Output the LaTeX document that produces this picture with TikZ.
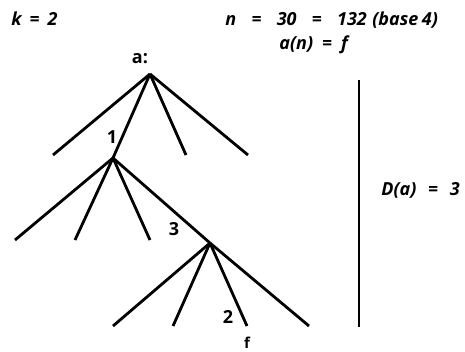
\documentclass[tikz,border=0pt]{standalone}
\usepackage{fontspec}
\setmainfont{Open Sans}
\usetikzlibrary{positioning}

\begin{document}
\begin{tikzpicture}[x=1pt,y=-1pt,line width=2.8pt,
    lbl/.style={font=\fontsize{18}{21}\selectfont\bfseries, inner sep=0pt, anchor=base},
    eqn/.style={font=\fontsize{18}{21}\selectfont\bfseries\itshape, inner sep=0pt, anchor=base west}]
    \useasboundingbox (0,0) rectangle (465,351);

    % inner vertices of the tree
    \coordinate (root) at (150,74);
    \coordinate (v1) at (113,158);
    \coordinate (v3) at (210,243);

    % leaves
    \foreach \i/\x in {1/53,3/186,4/248} \coordinate (a\i) at (\x,155);
    \foreach \i/\x in {1/15,2/75,3/150} \coordinate (b\i) at (\x,240);
    \foreach \i/\x in {1/113,2/173,3/247,4/309} \coordinate (c\i) at (\x,326);

    % edges
    \draw (root) -- (v1);
    \foreach \i in {1,3,4} \draw (root) -- (a\i);
    \draw (v1) -- (v3);
    \foreach \i in {1,2,3} \draw (v1) -- (b\i);
    \foreach \i in {1,2,3,4} \draw (v3) -- (c\i);

    % labels
    \node[lbl] (la) at (140,63) {a:};
    \node[lbl] (l1) at (112,143) {1};
    \node[lbl] (l3) at (174,235) {3};
    \node[lbl] (l2) at (228,323) {2};
    \node[lbl, font=\fontsize{15}{18}\selectfont\bfseries] (lf) at (247,348) {f};

    % depth bar
    \coordinate (top) at (359,80);
    \coordinate (bot) at (359,327);
    \draw[line width=1.8pt] (top) -- (bot);

    % equations
    \node[eqn] (k) at (10,25) {k\hspace{0.45em}=\hspace{0.45em}2};
    \node[eqn] (n) at (224,25) {n\hspace{0.85em}=\hspace{0.85em}30\hspace{0.85em}=\hspace{0.85em}132\hspace{0.3em}(base\hspace{0.2em}4)};
    \node[eqn] (an) at (278,49) {a(n)\hspace{0.5em}=\hspace{0.5em}f};
    \node[eqn] (d) at (380,195) {D(a)\hspace{0.65em}=\hspace{0.65em}3};
\end{tikzpicture}
\end{document}
